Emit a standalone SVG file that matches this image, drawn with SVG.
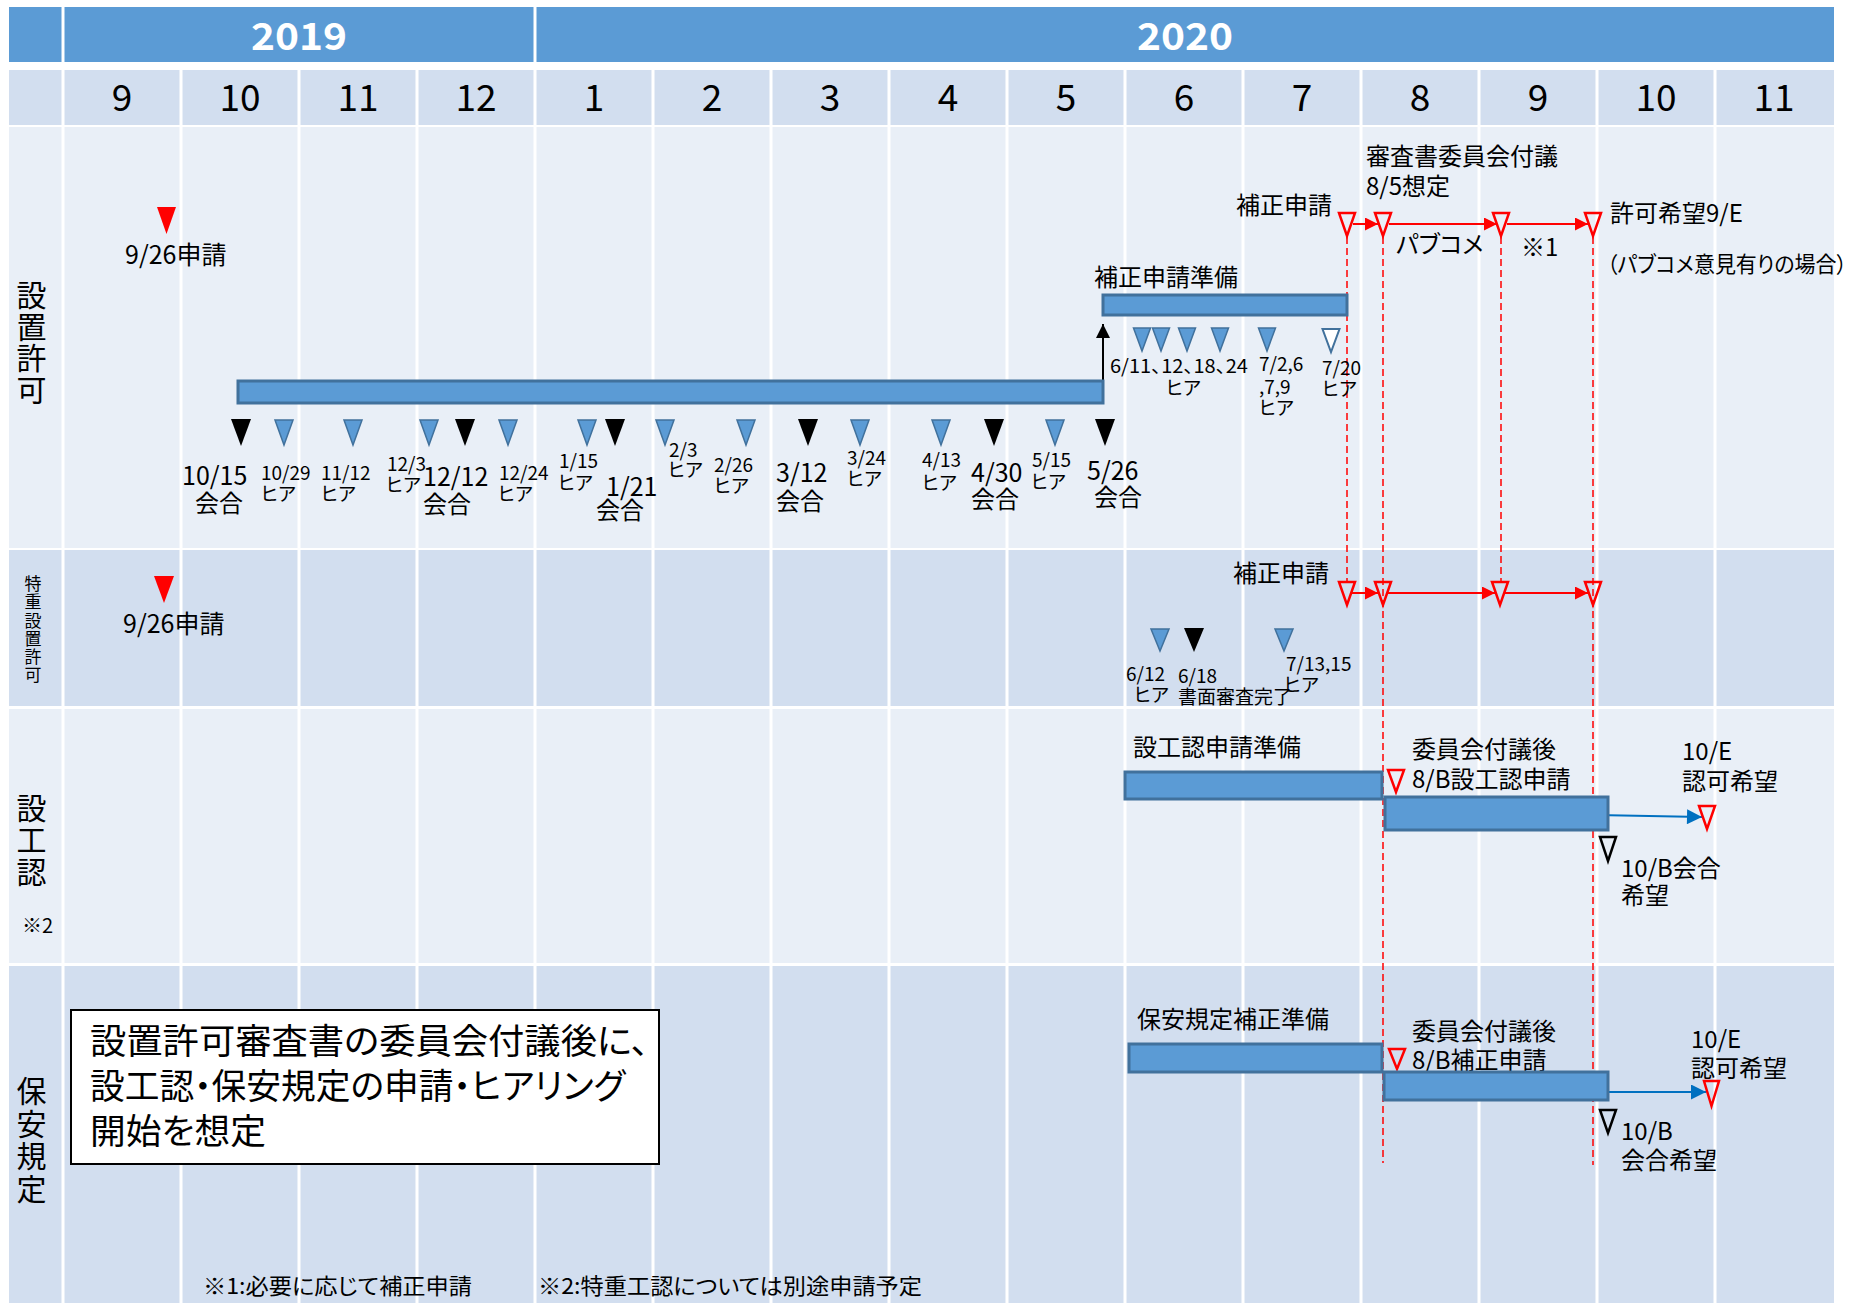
<svg xmlns="http://www.w3.org/2000/svg" width="1869" height="1303" viewBox="0 0 1869 1303">
<defs>
<style>
text { font-family: "Noto Sans CJK JP", "Noto Sans", sans-serif; font-feature-settings: "palt"; fill: #000; }
.yr { font-size: 38px; font-weight: bold; fill: #fff; text-anchor: middle; }
.mo { font-size: 37px; text-anchor: middle; }
.vt { writing-mode: vertical-rl; font-feature-settings: normal; }
.big { font-size: 25px; }
.kai { font-size: 24px; }
.sm { font-size: 19px; }
.lb { font-size: 24px; }
.note { font-size: 35px; }
.fn { font-size: 22px; }
.end { text-anchor: end; }
.bar { fill: #5B9BD5; stroke: #41719C; stroke-width: 3; }
.tb { fill: #5B9BD5; stroke: #41719C; stroke-width: 1.5; }
.tbh { fill: #fff; stroke: #41719C; stroke-width: 2; }
.tk { fill: #000; }
.tr { fill: none; stroke: #FF0000; stroke-width: 2.5; }
.trf { fill: #FF0000; }
.th { fill: none; stroke: #000; stroke-width: 2.5; }
.dash { stroke: #FF0000; stroke-width: 1.5; stroke-dasharray: 7 4; fill: none; }
.ar { stroke: #FF0000; stroke-width: 2; fill: none; marker-end: url(#mr); }
.ab { stroke: #0070C0; stroke-width: 2; fill: none; marker-end: url(#mb); }
.ak { stroke: #000; stroke-width: 2; fill: none; marker-end: url(#mk); }
.grid { stroke: #fff; stroke-width: 3; }
</style>
<marker id="mr" viewBox="0 0 10 10" refX="10" refY="5" markerWidth="15" markerHeight="13" markerUnits="userSpaceOnUse" orient="auto"><path d="M0,0 L10,5 L0,10 z" fill="#FF0000"/></marker>
<marker id="mb" viewBox="0 0 10 10" refX="10" refY="5" markerWidth="17" markerHeight="15" markerUnits="userSpaceOnUse" orient="auto"><path d="M0,0 L10,5 L0,10 z" fill="#0070C0"/></marker>
<marker id="mk" viewBox="0 0 10 10" refX="10" refY="5" markerWidth="15" markerHeight="14" markerUnits="userSpaceOnUse" orient="auto"><path d="M0,0 L10,5 L0,10 z" fill="#000"/></marker>
</defs>
<rect x="0" y="0" width="1869" height="1303" fill="#fff"/>

<g id="table">
<rect x="9" y="7" width="1825" height="55" fill="#5B9BD5"/>
<rect x="9" y="70" width="1825" height="55" fill="#D2DEEF"/>
<rect x="9" y="127" width="1825" height="421" fill="#E9EFF7"/>
<rect x="9" y="550" width="1825" height="156" fill="#D2DEEF"/>
<rect x="9" y="709" width="1825" height="254" fill="#E9EFF7"/>
<rect x="9" y="966" width="1825" height="337" fill="#D2DEEF"/>
<line class="grid" x1="63" y1="7" x2="63" y2="62"/>
<line class="grid" x1="535" y1="7" x2="535" y2="62"/>
<g class="grid">
<line x1="63" y1="70" x2="63" y2="1303"/>
<line x1="181" y1="70" x2="181" y2="1303"/>
<line x1="299" y1="70" x2="299" y2="1303"/>
<line x1="417" y1="70" x2="417" y2="1303"/>
<line x1="535" y1="70" x2="535" y2="1303"/>
<line x1="653" y1="70" x2="653" y2="1303"/>
<line x1="771" y1="70" x2="771" y2="1303"/>
<line x1="889" y1="70" x2="889" y2="1303"/>
<line x1="1007" y1="70" x2="1007" y2="1303"/>
<line x1="1125" y1="70" x2="1125" y2="1303"/>
<line x1="1243" y1="70" x2="1243" y2="1303"/>
<line x1="1361" y1="70" x2="1361" y2="1303"/>
<line x1="1479" y1="70" x2="1479" y2="1303"/>
<line x1="1597" y1="70" x2="1597" y2="1303"/>
<line x1="1715" y1="70" x2="1715" y2="1303"/>
</g>
</g>

<g id="header">
<text class="yr" x="299" y="50" textLength="96" lengthAdjust="spacingAndGlyphs">2019</text>
<text class="yr" x="1185" y="50" textLength="96" lengthAdjust="spacingAndGlyphs">2020</text>
<text class="mo" x="122" y="111">9</text>
<text class="mo" x="240" y="111">10</text>
<text class="mo" x="358" y="111">11</text>
<text class="mo" x="476" y="111">12</text>
<text class="mo" x="594" y="111">1</text>
<text class="mo" x="712" y="111">2</text>
<text class="mo" x="830" y="111">3</text>
<text class="mo" x="948" y="111">4</text>
<text class="mo" x="1066" y="111">5</text>
<text class="mo" x="1184" y="111">6</text>
<text class="mo" x="1302" y="111">7</text>
<text class="mo" x="1420" y="111">8</text>
<text class="mo" x="1538" y="111">9</text>
<text class="mo" x="1656" y="111">10</text>
<text class="mo" x="1774" y="111">11</text>
</g>

<g id="row-labels">
<text class="vt" x="31.5" y="280" style="font-size:30px;letter-spacing:1.5px">設置許可</text>
<text class="vt" x="33" y="575" style="font-size:17px;letter-spacing:1.3px">特重設置許可</text>
<text class="vt" x="31.5" y="793" style="font-size:30px;letter-spacing:2px">設工認</text>
<text x="22" y="933" style="font-size:20px">※2</text>
<text class="vt" x="31.5" y="1076" style="font-size:30px;letter-spacing:2.5px">保安規定</text>
</g>

<g id="connectors">
<line class="dash" x1="1347" y1="237" x2="1347" y2="581"/>
<line class="dash" x1="1383" y1="237" x2="1383" y2="1163"/>
<line class="dash" x1="1501" y1="237" x2="1501" y2="581"/>
<line class="dash" x1="1593" y1="237" x2="1593" y2="1165"/>
<line class="ar" x1="1353" y1="224" x2="1378" y2="224"/>
<line class="ar" x1="1389" y1="224" x2="1497" y2="224"/>
<line class="ar" x1="1507" y1="224" x2="1588" y2="224"/>
<line class="ar" x1="1352" y1="593" x2="1378" y2="593"/>
<line class="ar" x1="1388" y1="593" x2="1495" y2="593"/>
<line class="ar" x1="1505" y1="593" x2="1588" y2="593"/>
<line class="ab" x1="1596" y1="815" x2="1702" y2="817"/>
<line class="ab" x1="1602" y1="1092" x2="1706" y2="1092"/>
<line class="ak" x1="1103" y1="381" x2="1103" y2="324"/>
</g>

<g id="row1-application">
<polygon class="trf" points="157,207 176,207 166.5,234"/>
<text class="big" x="125" y="264">9/26申請</text>
</g>

<g id="row1-main-bar">
<rect class="bar" x="238" y="381" width="865" height="22"/>
</g>

<g id="row1-milestones">
<polygon class="tk" points="231,419 251,419 241,446"/>
<polygon class="tk" points="455,419 475,419 465,446"/>
<polygon class="tk" points="605,419 625,419 615,446"/>
<polygon class="tk" points="798,419 818,419 808,446"/>
<polygon class="tk" points="984,419 1004,419 994,446"/>
<polygon class="tk" points="1095,419 1115,419 1105,446"/>
<polygon class="tb" points="275,420 293,420 284,445"/>
<polygon class="tb" points="344,420 362,420 353,445"/>
<polygon class="tb" points="420,420 438,420 429,445"/>
<polygon class="tb" points="499,420 517,420 508,445"/>
<polygon class="tb" points="578,420 596,420 587,445"/>
<polygon class="tb" points="656,420 674,420 665,445"/>
<polygon class="tb" points="737,420 755,420 746,445"/>
<polygon class="tb" points="851,420 869,420 860,445"/>
<polygon class="tb" points="932,420 950,420 941,445"/>
<polygon class="tb" points="1046,420 1064,420 1055,445"/>
<text class="big" x="182" y="485">10/15<tspan class="kai" x="195" y="512">会合</tspan></text>
<text class="sm" x="261" y="480">10/29<tspan x="261" y="501">ヒア</tspan></text>
<text class="sm" x="321" y="480">11/12<tspan x="321" y="501">ヒア</tspan></text>
<text class="sm" x="387" y="471">12/3<tspan x="386" y="492">ヒア</tspan></text>
<text class="big" x="423" y="486">12/12<tspan class="kai" x="423" y="513">会合</tspan></text>
<text class="sm" x="499" y="480">12/24<tspan x="498" y="501">ヒア</tspan></text>
<text class="sm" x="559" y="468">1/15<tspan x="558" y="490">ヒア</tspan></text>
<text class="big" x="606" y="496">1/21<tspan class="kai" x="596" y="519">会合</tspan></text>
<text class="sm" x="669" y="457">2/3<tspan x="668" y="477">ヒア</tspan></text>
<text class="sm" x="714" y="472">2/26<tspan x="714" y="493">ヒア</tspan></text>
<text class="big" x="776" y="482">3/12<tspan class="kai" x="776" y="510">会合</tspan></text>
<text class="sm" x="847" y="465">3/24<tspan x="847" y="486">ヒア</tspan></text>
<text class="sm" x="922" y="467">4/13<tspan x="922" y="490">ヒア</tspan></text>
<text class="big" x="971" y="482">4/30<tspan class="kai" x="971" y="508">会合</tspan></text>
<text class="sm" x="1032" y="467">5/15<tspan x="1031" y="489">ヒア</tspan></text>
<text class="big" x="1087" y="480">5/26<tspan class="kai" x="1094" y="506">会合</tspan></text>
</g>

<g id="row1-amendment-prep">
<rect class="bar" x="1103" y="295" width="244" height="20"/>
<text class="lb" x="1094" y="286">補正申請準備</text>
<polygon class="tb" points="1133.5,328 1150.5,328 1142,351"/>
<polygon class="tb" points="1152.5,328 1169.5,328 1161,351"/>
<polygon class="tb" points="1178.5,328 1195.5,328 1187,351"/>
<polygon class="tb" points="1211.5,328 1228.5,328 1220,351"/>
<polygon class="tb" points="1258.5,328 1275.5,328 1267,351"/>
<polygon class="tbh" points="1322.5,329 1339.5,329 1331,352"/>
<text class="sm" x="1110" y="373"><tspan textLength="138" lengthAdjust="spacingAndGlyphs">6/11、12、18、24</tspan><tspan x="1166" y="395">ヒア</tspan></text>
<text class="sm" x="1259" y="371">7/2,6<tspan x="1259" y="394">,7,9</tspan><tspan x="1259" y="415">ヒア</tspan></text>
<text class="sm" x="1322" y="375">7/20<tspan x="1322" y="396">ヒア</tspan></text>
</g>

<g id="row1-schedule">
<polygon class="tr" points="1339,213 1355,213 1347,236"/>
<polygon class="tr" points="1375,213 1391,213 1383,236"/>
<polygon class="tr" points="1493,213 1509,213 1501,236"/>
<polygon class="tr" points="1585,213 1601,213 1593,236"/>
<text class="lb end" x="1332" y="214">補正申請</text>
<text class="lb" x="1366" y="165">審査書委員会付議<tspan x="1366" y="195">8/5想定</tspan></text>
<text class="lb" x="1396" y="253">パブコメ</text>
<text class="lb" x="1521" y="256">※1</text>
<text class="lb" x="1610" y="222">許可希望9/E</text>
<text x="1607" y="272" style="font-size:22px" textLength="240" lengthAdjust="spacingAndGlyphs">（パブコメ意見有りの場合）</text>
</g>

<g id="row2-application">
<polygon class="trf" points="154,576 174,576 164,603"/>
<text class="big" x="123" y="633">9/26申請</text>
</g>

<g id="row2-schedule">
<polygon class="tr" points="1339,582 1355,582 1347,605"/>
<polygon class="tr" points="1375,582 1391,582 1383,605"/>
<polygon class="tr" points="1492,582 1508,582 1500,605"/>
<polygon class="tr" points="1585,582 1601,582 1593,605"/>
<text class="lb end" x="1329" y="582">補正申請</text>
<polygon class="tb" points="1151,629 1169,629 1160,651"/>
<polygon class="tk" points="1184,628 1204,628 1194,652"/>
<polygon class="tb" points="1275,629 1293,629 1284,651"/>
<text class="sm" x="1126" y="681">6/12<tspan x="1134" y="702">ヒア</tspan></text>
<text class="sm" x="1178" y="683">6/18<tspan x="1178" y="704">書面審査完了</tspan></text>
<text class="sm" x="1286" y="671">7/13,15<tspan x="1284" y="692">ヒア</tspan></text>
</g>

<g id="row3-design">
<rect class="bar" x="1125" y="772" width="257" height="27"/>
<text class="lb" x="1133" y="756">設工認申請準備</text>
<polygon class="tr" points="1388,770 1404,770 1396,792"/>
<text class="lb" x="1412" y="758">委員会付議後<tspan x="1412" y="788">8/B設工認申請</tspan></text>
<rect class="bar" x="1385" y="797" width="223" height="33"/>
<polygon class="tr" points="1699,806 1715,806 1707,829"/>
<text class="lb" x="1682" y="760">10/E<tspan x="1682" y="790">認可希望</tspan></text>
<polygon class="th" points="1600,837 1616,837 1608,861"/>
<text class="lb" x="1621" y="877">10/B会合<tspan x="1621" y="904">希望</tspan></text>
</g>

<g id="row4-safety">
<rect class="bar" x="1129" y="1044" width="253" height="28"/>
<text class="lb" x="1137" y="1028">保安規定補正準備</text>
<polygon class="tr" points="1389,1049 1405,1049 1397,1069"/>
<text class="lb" x="1412" y="1040">委員会付議後<tspan x="1412" y="1069">8/B補正申請</tspan></text>
<rect class="bar" x="1384" y="1072" width="224" height="28"/>
<polygon class="tr" points="1704,1081 1719,1081 1711.5,1106"/>
<text class="lb" x="1691" y="1048">10/E<tspan x="1691" y="1077">認可希望</tspan></text>
<polygon class="th" points="1600,1110 1616,1110 1608,1133"/>
<text class="lb" x="1621" y="1140">10/B<tspan x="1621" y="1169">会合希望</tspan></text>
</g>

<g id="note">
<rect x="71" y="1010" width="588" height="154" fill="#fff" stroke="#000" stroke-width="2"/>
<text class="note" x="90" y="1054"><tspan textLength="559" lengthAdjust="spacingAndGlyphs">設置許可審査書の委員会付議後に、</tspan><tspan x="90" y="1099" textLength="535" lengthAdjust="spacingAndGlyphs">設工認・保安規定の申請・ヒアリング</tspan><tspan x="90" y="1144" textLength="176" lengthAdjust="spacingAndGlyphs">開始を想定</tspan></text>
</g>

<g id="footnotes">
<text class="fn" x="203" y="1294" textLength="269" lengthAdjust="spacingAndGlyphs">※1:必要に応じて補正申請</text>
<text class="fn" x="538" y="1294" textLength="384" lengthAdjust="spacingAndGlyphs">※2:特重工認については別途申請予定</text>
</g>
</svg>
